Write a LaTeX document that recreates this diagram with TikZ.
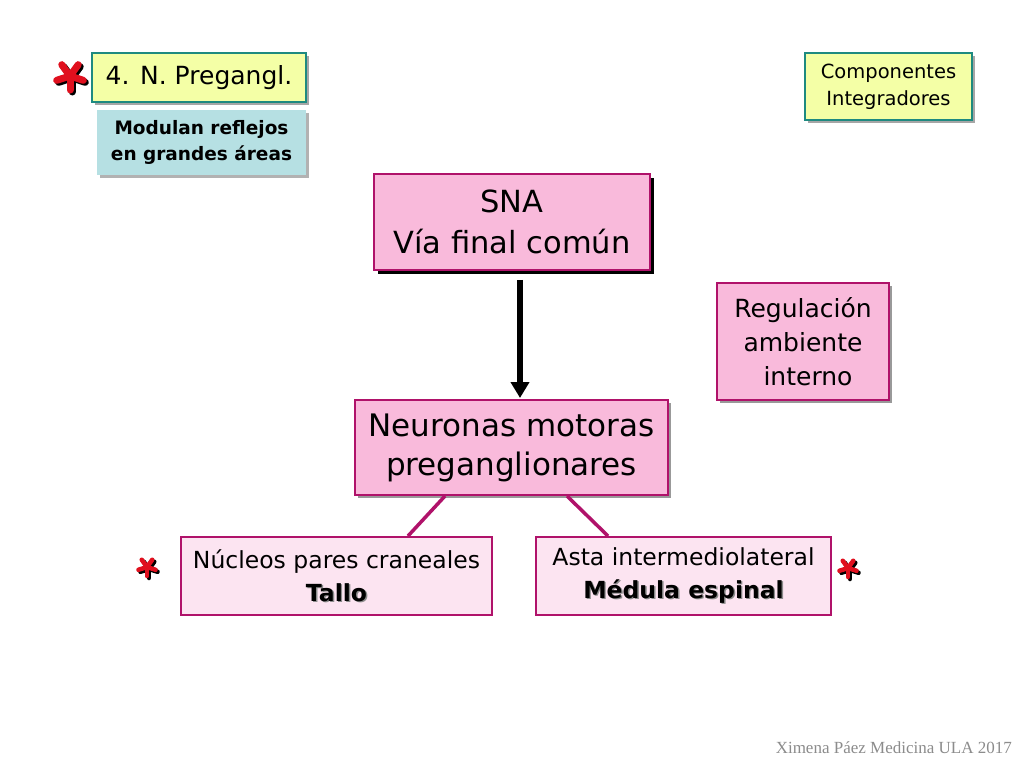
\documentclass[tikz,border=0pt]{standalone}
\usepackage{fontspec}
\setmainfont{DejaVu Sans}
\newfontfamily\footfont{Liberation Serif}
\usetikzlibrary{shadows,arrows.meta}
\definecolor{yelf}{HTML}{F4FFA6}
\definecolor{tealb}{HTML}{1E8A80}
\definecolor{bluef}{HTML}{B6E0E3}
\definecolor{pinkf}{HTML}{F9BADB}
\definecolor{pinkl}{HTML}{FCE4F1}
\definecolor{magb}{HTML}{B0126A}
\definecolor{starred}{HTML}{E0101E}
\newcommand\shtext[1]{\makebox[0pt][l]{\raisebox{-1.2pt}{\hspace{1.4pt}\textcolor{black!45}{#1}}}#1}
\newcommand\myast[4]{%
  \foreach \a in {90,162,234,306,18}{\draw[black,line width=#4,line cap=round] (#1+2,#2+2) -- ++(\a:#3);}
  \foreach \a in {90,162,234,306,18}{\draw[starred,line width=#4,line cap=round] (#1,#2) -- ++(\a:#3);}
}
\tikzset{
  box/.style={draw, align=center, inner sep=2pt},
  yelbox/.style={box, fill=yelf, draw=tealb, line width=2.5pt, drop shadow={shadow xshift=3pt, shadow yshift=-3pt, fill=black!35, opacity=1}},
  bluebox/.style={box, fill=bluef, draw=none, drop shadow={shadow xshift=3pt, shadow yshift=-3pt, fill=black!30, opacity=1}},
  pinkbox/.style={box, fill=pinkf, draw=magb, line width=2pt, drop shadow={shadow xshift=3pt, shadow yshift=-3pt, fill=black!40, opacity=1}},
  snabox/.style={box, fill=pinkf, draw=magb, line width=1.5pt, drop shadow={shadow xshift=4pt, shadow yshift=-4pt, fill=black, opacity=1}},
  lightbox/.style={box, fill=pinkl, draw=magb, line width=2pt},
  link/.style={magb, line width=3.5pt},
  bigarrow/.style={black, line width=6pt, -{Triangle[length=16pt,width=18pt]}},
}
\begin{document}
\begin{tikzpicture}[x=1pt,y=-1pt]
\useasboundingbox[fill=white] (0,0) rectangle (1024,768);

\myast{70}{76}{14}{7pt}
\myast{147}{567}{9}{4.5pt}
\myast{848}{568}{9}{4.5pt}

\node[yelbox, minimum width=214pt, minimum height=49pt, font=\fontsize{25}{29}\selectfont] (pre) at (199,77.5) {4. N. Pregangl.};
\node[bluebox, minimum width=209pt, minimum height=65pt, font=\bfseries\fontsize{18.5}{26}\selectfont] (mod) at (201.5,142.5) {Modulan reflejos\\en grandes áreas};
\node[yelbox, minimum width=167pt, minimum height=67pt, font=\fontsize{19.5}{27}\selectfont] (comp) at (888.5,86.5) {Componentes\\Integradores};

\node[snabox, minimum width=276pt, minimum height=96pt, font=\fontsize{30.5}{41}\selectfont] (sna) at (512,222) {SNA\\Vía final común};
\node[pinkbox, minimum width=172pt, minimum height=117pt, font=\fontsize{25}{34}\selectfont] (reg) at (803,341.5) {Regulación\\ambiente\\\hspace{10pt}interno};
\node[pinkbox, minimum width=313pt, minimum height=95pt, font=\fontsize{31}{39}\selectfont] (neu) at (511.5,447.5) {Neuronas motoras\\preganglionares};

\node[lightbox, minimum width=311pt, minimum height=78pt, font=\fontsize{23.5}{33}\selectfont] (nuc) at (336.5,576) {Núcleos pares craneales\\\textbf{\shtext{Tallo}}};
\node[lightbox, minimum width=295pt, minimum height=78pt, font=\fontsize{23.5}{33}\selectfont] (asta) at (683.5,576) {Asta intermediolateral\\\textbf{\shtext{Médula espinal}}};

\draw[bigarrow] ([yshift=-9pt]sna.south -| 520,0) -- ([yshift=1pt]neu.north -| 520,0);
\draw[link] ([xshift=-66.5pt]neu.south) -- ([xshift=71.5pt]nuc.north);
\draw[link] ([xshift=55.5pt]neu.south) -- ([xshift=-75.5pt]asta.north);

\node[anchor=east, text=black!45, font=\footfont\fontsize{17}{19}\selectfont, inner sep=0pt] (foot) at (1012,748) {Ximena Páez Medicina ULA 2017};
\end{tikzpicture}
\end{document}
